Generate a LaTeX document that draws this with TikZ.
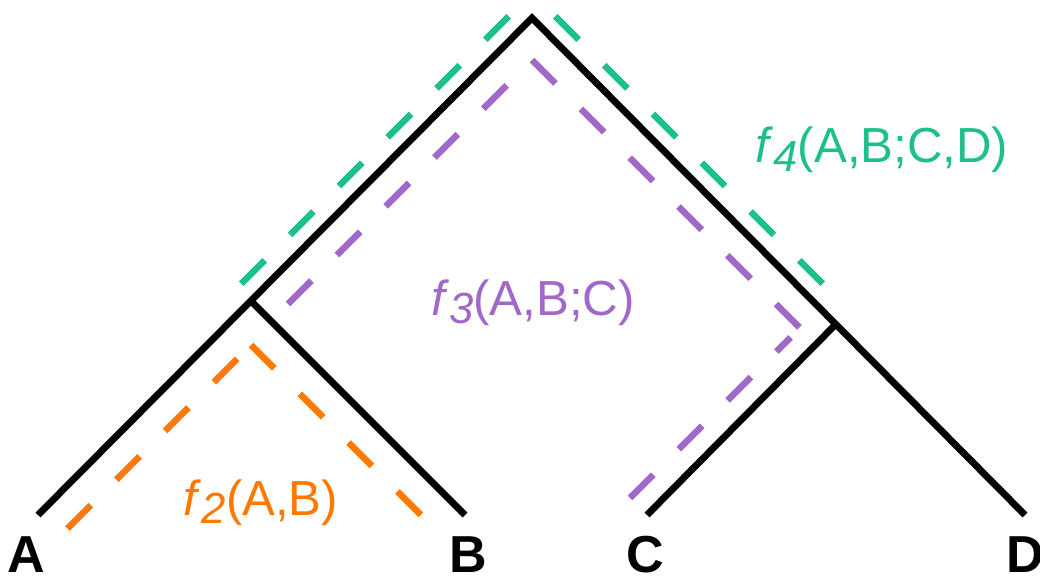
\documentclass[tikz,border=0pt]{standalone}
\usepackage{fontspec}
\setmainfont{Liberation Sans}

\definecolor{fgreen}{RGB}{30,191,140}
\definecolor{fpurple}{RGB}{160,104,200}
\definecolor{forange}{RGB}{255,121,0}

\newcommand{\fsub}[1]{\textit{f}\raisebox{-6pt}{\fontsize{31}{31}\selectfont\itshape #1}}

\begin{document}
\begin{tikzpicture}[x=0.025cm, y=-0.025cm,
    tree/.style={line width=4.9pt},
    dashline/.style={line width=4.7pt, dash pattern=on 0.825cm off 0.9cm},
    leaf/.style={anchor=base, inner sep=0pt, font=\fontsize{37}{44}\selectfont\bfseries},
    flabel/.style={anchor=base, inner sep=0pt, font=\fontsize{35}{42}\selectfont}]
    \useasboundingbox (0,0) rectangle (1040,577);

    \coordinate (root) at (532,18);
    \coordinate (ab) at (251,301);
    \coordinate (cd) at (836,324);
    \coordinate (a) at (38,515);
    \coordinate (b) at (465,515);
    \coordinate (c) at (647,515);
    \coordinate (d) at (1025,515);

    \draw[tree] (a) -- (root) -- (d);
    \draw[tree] (ab) -- (b);
    \draw[tree] (cd) -- (c);

    \coordinate (gtop) at (532,-7);
    \coordinate (gl) at (238,287);
    \coordinate (gr) at (840,301);
    \draw[dashline, fgreen, dash phase=0.9cm] (gtop) -- (gl);
    \draw[dashline, fgreen, dash phase=0.9cm] (gtop) -- (gr);

    \coordinate (ptop) at (532,60);
    \coordinate (pl) at (282,310);
    \coordinate (pc) at (800,328);
    \coordinate (pe) at (630,498);
    \coordinate (pk) at (790.5,337.5);
    \draw[dashline, fpurple, dash phase=1.51cm] (pl) -- (ptop) -- (pc);
    \draw[dashline, fpurple] (pe) -- (pk);

    \coordinate (otop) at (251,345);
    \coordinate (ol) at (67,529);
    \coordinate (or) at (423,517);
    \draw[dashline, forange, dash phase=1.2375cm] (otop) -- (ol);
    \draw[dashline, forange] (otop) -- (or);

    \node[leaf] (la) at (26.5,572) {A};
    \node[leaf] (lb) at (468,572) {B};
    \node[leaf] (lc) at (645,572) {C};
    \node[leaf] (ld) at (1025,572) {D};

    \node[flabel, text=fgreen] (f4) at (882,163) {\fsub{4}(A,B;C,D)};
    \node[flabel, text=fpurple] (f3) at (533,315) {\fsub{3}(A,B;C)};
    \node[flabel, text=forange] (f2) at (261,515) {\fsub{2}(A,B)};
\end{tikzpicture}
\end{document}
